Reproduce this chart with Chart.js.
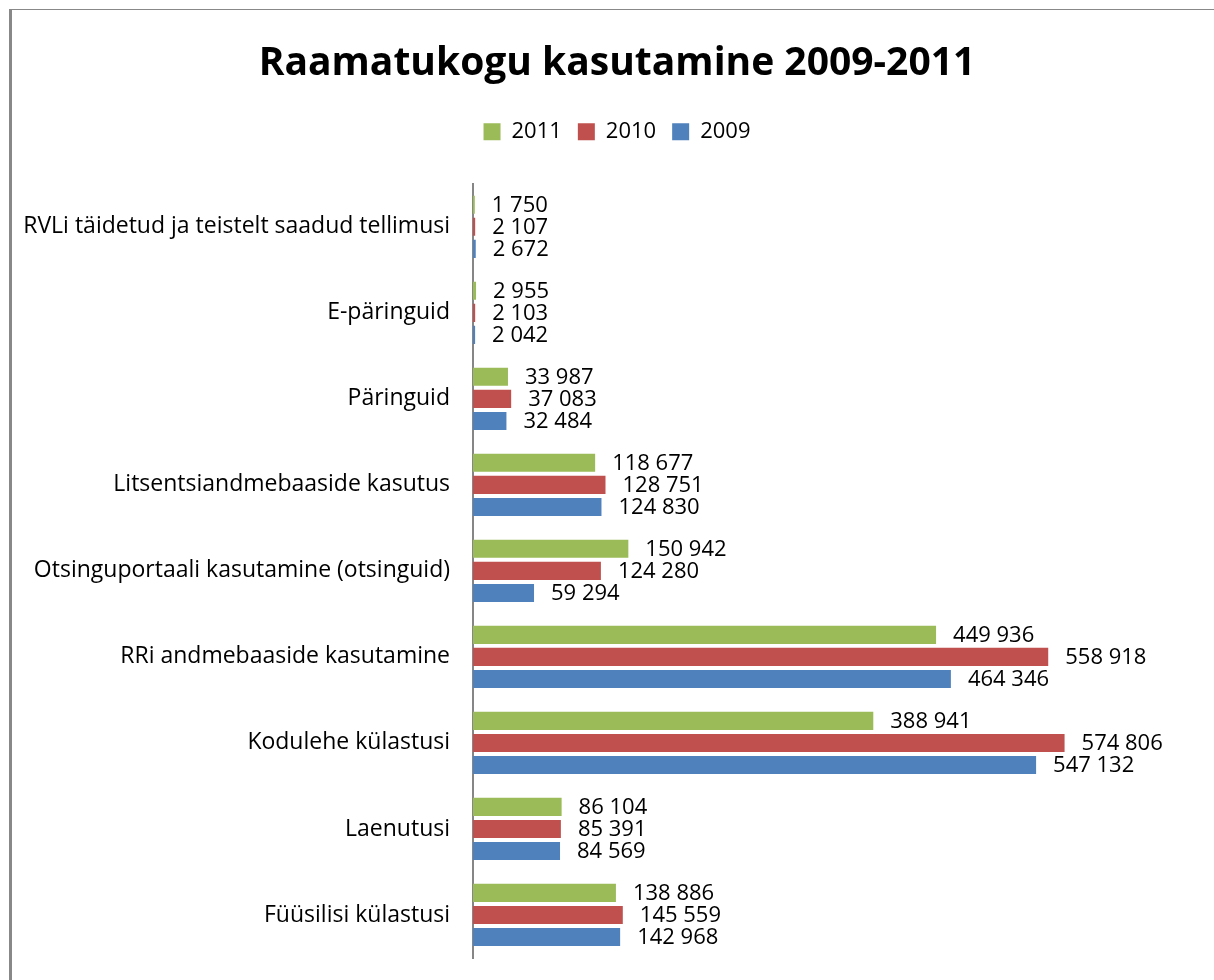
<!DOCTYPE html>
<html>
<head>
<meta charset="UTF-8">
<title>Raamatukogu kasutamine 2009-2011</title>
<style>
body {
	margin: 0;
	background-color: #ffffff;
	overflow: hidden;
}
.frame {
	position: absolute;
	left: 9px;
	top: 9px;
	width: 1300px;
	height: 1100px;
	border-left: 3px solid #888888;
	border-top: 1px solid #888888;
}
.chart-box {
	position: absolute;
	left: 0;
	top: 0;
	width: 1214px;
	height: 980px;
}
</style>
<script src="https://cdn.jsdelivr.net/npm/chart.js"></script>
<script>
const categories = [
    'RVLi täidetud ja teistelt saadud tellimusi',
    'E-päringuid',
    'Päringuid',
    'Litsentsiandmebaaside kasutus',
    'Otsinguportaali kasutamine (otsinguid)',
    'RRi andmebaaside kasutamine',
    'Kodulehe külastusi',
    'Laenutusi',
    'Füüsilisi külastusi'
];
const years = ['2011', '2010', '2009'];
const values2011 = [1750, 2955, 33987, 118677, 150942, 449936, 388941, 86104, 138886];
const values2010 = [2107, 2103, 37083, 128751, 124280, 558918, 574806, 85391, 145559];
const values2009 = [2672, 2042, 32484, 124830, 59294, 464346, 547132, 84569, 142968];
const colors = ['#9bbb59', '#c0504d', '#4f81bd'];

function fmt(v) {
    return String(v).replace(/\B(?=(\d{3})+(?!\d))/g, ' ');
}

// value labels to the right of each bar
const barLabels = {
    id: 'barLabels',
    afterDatasetsDraw(chart) {
        const ctx = chart.ctx;
        ctx.save();
        ctx.font = '22px "Open Sans", sans-serif';
        ctx.fillStyle = '#000000';
        ctx.textAlign = 'left';
        ctx.textBaseline = 'middle';
        chart.data.datasets.forEach((ds, i) => {
            const meta = chart.getDatasetMeta(i);
            meta.data.forEach((bar, j) => {
                ctx.fillText(fmt(ds.data[j]), bar.x + 17, bar.y + 1);
            });
        });
        ctx.restore();
    }
};

document.addEventListener("DOMContentLoaded", function() {
    const ctx = document.getElementById('barChart').getContext('2d');
    const series = [values2011, values2010, values2009];

    new Chart(ctx, {
        type: 'bar',
        data: {
            labels: categories,
            datasets: years.map((y, i) => ({
                label: y,
                data: series[i],
                backgroundColor: colors[i],
                borderWidth: 0,
                categoryPercentage: 0.77,
                barPercentage: 0.82
            }))
        },
        options: {
            indexAxis: 'y',
            responsive: false,
            animation: false,
            devicePixelRatio: 1,
            layout: {
                padding: { top: 0, right: 0, bottom: 22, left: 20 }
            },
            plugins: {
                title: {
                    display: true,
                    text: 'Raamatukogu kasutamine 2009-2011',
                    color: '#000000',
                    font: { family: '"Open Sans", sans-serif', size: 39, weight: 'bold' },
                    padding: { top: 40, bottom: 18 }
                },
                legend: {
                    display: true,
                    position: 'top',
                    labels: {
                        color: '#000000',
                        font: { family: '"Open Sans", sans-serif', size: 22 },
                        boxWidth: 17,
                        boxHeight: 17,
                        padding: 16
                    }
                },
                tooltip: { enabled: false }
            },
            scales: {
                x: {
                    position: 'top',
                    min: 0,
                    max: 720000,
                    ticks: { display: false },
                    grid: { display: false, drawTicks: false },
                    border: { display: false },
                    afterFit: function(scale) { scale.height = 31; }
                },
                y: {
                    grid: { display: false, drawTicks: false },
                    border: { display: true, color: '#868686', width: 2 },
                    ticks: {
                        color: '#000000',
                        padding: 23,
                        font: { family: '"Open Sans", sans-serif', size: 23 }
                    },
                    afterFit: function(scale) {
                        scale.width = 453;
                        scale.paddingTop = 0;
                        scale.paddingBottom = 0;
                    }
                }
            }
        },
        plugins: [barLabels]
    });
});
</script>
</head>
<body>
	<div class="frame"></div>
	<div class="chart-box">
		<canvas id="barChart" width="1214" height="980"></canvas>
	</div>
</body>
</html>
